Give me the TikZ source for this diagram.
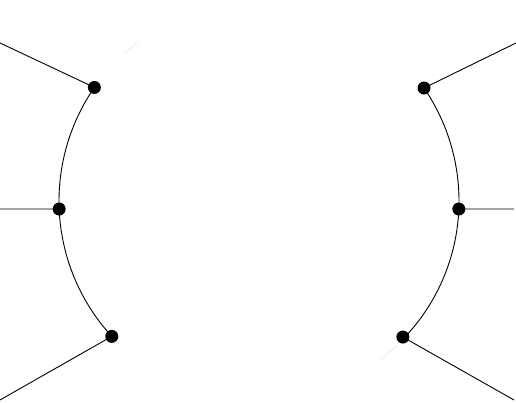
\documentclass[tikz,border=0pt]{standalone}
\begin{document}
\begin{tikzpicture}[x=1pt,y=1pt,
  dot/.style={circle,fill=black,inner sep=0pt,minimum size=13pt},
  edge/.style={line width=0.9pt,black},
  faint/.style={line width=0.9pt,black!7}]
\useasboundingbox (0,0) rectangle (516,403);
\begin{scope}[shift={(259,202)}]
  % faint circle pieces
  \draw[faint] (127.3:200) arc[start angle=127.3,end angle=132.2,radius=200];
  \draw[faint] (223:200) arc[start angle=223,end angle=226,radius=200];
  \draw[faint] (-52.2:200) arc[start angle=-52.2,end angle=-46,radius=200];
  % dots
  \node[dot] (lt) at (145.4:200) {};
  \node[dot] (lm) at (182.3:200) {};
  \node[dot] (lb) at (222.6:200) {};
  \node[dot] (rt) at (34.4:200) {};
  \node[dot] (rm) at (-2.3:200) {};
  \node[dot] (rb) at (-43.4:198) {};
  % arcs
  \draw[edge] (lt.center) arc[start angle=145.4,end angle=182.3,radius=200];
  \draw[edge] (lm.center) arc[start angle=182.3,end angle=222.6,radius=200];
  \draw[edge] (rt.center) arc[start angle=34.4,end angle=-2.3,radius=200];
  \draw[edge] (rm.center) arc[start angle=-2.3,end angle=-43.4,radius=198];
\end{scope}
% outer ends
\coordinate (a1) at (0,360);
\coordinate (a2) at (0,194);
\coordinate (a3) at (0,3);
\coordinate (b1) at (516,360);
\coordinate (b2) at (514,194);
\coordinate (b3) at (514,3);
\draw[edge] (a1) -- (lt.center);
\draw[edge] (a2) -- (lm.center);
\draw[edge] (a3) -- (lb.center);
\draw[edge] (b1) -- (rt.center);
\draw[edge] (b2) -- (rm.center);
\draw[edge] (b3) -- (rb.center);
\end{tikzpicture}
\end{document}
